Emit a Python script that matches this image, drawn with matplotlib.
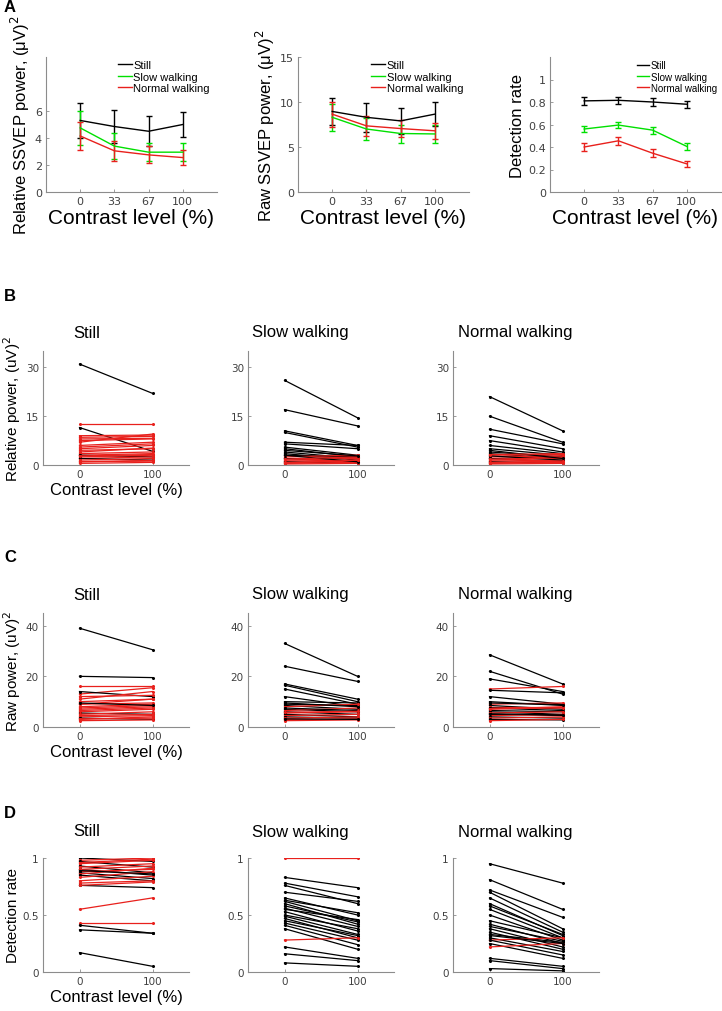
import numpy as np
import matplotlib
matplotlib.use("Agg")
import matplotlib.pyplot as plt
from matplotlib.lines import Line2D

plt.rcParams['font.family'] = ['Liberation Sans', 'DejaVu Sans']

# ---------------- Data: panel A ----------------
contrast_labels = ['0', '33', '67', '100']
contrast_pos = [1, 2, 3, 4]
conditions = ['Still', 'Slow walking', 'Normal walking']
cond_colors = ['black', '#00e000', '#e8201c']

rel_mean = [[5.3, 4.85, 4.5, 5.0],
            [4.75, 3.4, 2.95, 2.95],
            [4.15, 3.05, 2.75, 2.55]]
rel_err = [[1.3, 1.2, 1.1, 0.95],
           [1.25, 0.95, 0.67, 0.67],
           [1.02, 0.72, 0.63, 0.53]]

raw_mean = [[8.95, 8.3, 7.9, 8.65],
            [8.3, 7.0, 6.5, 6.45],
            [8.65, 7.35, 7.05, 6.8]]
raw_err = [[1.5, 1.6, 1.4, 1.3],
           [1.5, 1.2, 1.0, 0.95],
           [1.4, 1.1, 0.9, 0.9]]

det_mean = [[0.81, 0.815, 0.80, 0.78],
            [0.56, 0.595, 0.55, 0.405],
            [0.40, 0.455, 0.345, 0.25]]
det_err = [[0.035, 0.033, 0.033, 0.033],
           [0.03, 0.03, 0.03, 0.03],
           [0.035, 0.033, 0.033, 0.025]]

# ---------------- Data: panels B-D (per subject, contrast 0 -> 100) ----------------
pair_x = [0, 100]

rel_still_0 = [31, 11.5, 12.7, 9, 8.5, 8, 7.5, 6, 5, 4.5, 4, 3.5, 3, 3, 2.5, 2, 2, 1.5, 1, 1, 0.5, 7, 2.8, 5.5]
rel_still_100 = [22, 4.2, 12.7, 9.2, 8.8, 8.2, 8, 7, 6, 5, 5.2, 4, 3.5, 2.5, 3, 2.5, 1.5, 2, 1.2, 1.4, 0.8, 9.5, 3.2, 6.5]
rel_slow_0 = [26, 17, 10.5, 10, 7, 6.5, 5.5, 5, 4, 3.5, 3, 2.5, 2, 2, 1.5, 1.2, 1, 0.8, 0.5, 0.3, 3, 1.8, 0.6, 4.5]
rel_slow_100 = [14.5, 12, 6, 5.5, 6, 5, 3, 2.5, 2, 1.5, 2.5, 3, 2.2, 1, 2, 1.5, 0.5, 1.2, 0.8, 0.5, 1, 2.5, 1.5, 2.8]
rel_norm_0 = [21, 15, 11, 9, 7.5, 6, 5, 4, 3.5, 3, 2.5, 2, 2, 1.5, 1.2, 1, 0.8, 0.5, 0.3, 2.8, 1.8, 0.6, 4.5, 3.2]
rel_norm_100 = [10.5, 7, 6.5, 5, 4, 3.5, 3, 2.5, 2, 3.2, 2.8, 2.5, 1, 2, 1.5, 0.5, 1.2, 0.8, 0.5, 1.5, 2.2, 1.2, 2, 3.5]

raw_still_0 = [39, 20, 16, 13, 14, 11, 12, 10, 9, 9, 8, 7.5, 7, 6, 5.5, 5, 4.5, 4, 3.5, 3, 2.5, 9.5, 6.5, 3.2]
raw_still_100 = [30.5, 19.5, 16, 15.5, 12, 14, 12.5, 11, 11, 9.5, 9, 8.5, 8, 7, 5, 6, 5, 4.5, 3, 4, 2.8, 8.5, 7.5, 3.5]
raw_slow_0 = [33, 24, 17, 16.5, 15, 12, 10, 9, 8.5, 8, 7, 6.5, 6, 5.5, 5, 4.5, 4, 3.5, 3, 2.5, 9.5, 7.5, 5.8, 3.2]
raw_slow_100 = [20, 18, 11, 10, 9, 8, 9.5, 8.5, 7, 9, 6, 7.5, 5, 6, 4, 5, 3.5, 4, 3.2, 2.8, 8, 6.5, 6.2, 3]
raw_norm_0 = [28.5, 22, 19, 15, 14.5, 12, 10, 9, 8.5, 8, 7.5, 7, 6.5, 6, 5.5, 5, 4.5, 4, 3.5, 3, 2.5, 9.5, 7.2, 5.2]
raw_norm_100 = [17, 13, 14, 16, 13.5, 9, 8.5, 9.5, 7, 8, 6.5, 8, 6, 5, 6, 4.5, 5, 3.5, 4, 2.8, 3, 8.8, 7.5, 4.8]

det_still_0 = [1.0, 0.98, 0.97, 0.95, 0.93, 0.92, 0.9, 0.9, 0.88, 0.87, 0.86, 0.85, 0.83, 0.8, 0.78, 0.76, 0.76, 0.55, 0.43, 0.41, 0.37, 0.17, 0.96, 0.89]
det_still_100 = [0.97, 1.0, 0.92, 0.98, 0.87, 0.95, 0.85, 0.93, 0.9, 0.82, 0.91, 0.8, 0.88, 0.84, 0.8, 0.74, 0.79, 0.65, 0.43, 0.34, 0.34, 0.05, 0.99, 0.86]
det_slow_0 = [1.0, 0.83, 0.78, 0.76, 0.7, 0.65, 0.63, 0.62, 0.6, 0.58, 0.56, 0.53, 0.5, 0.49, 0.47, 0.45, 0.43, 0.41, 0.38, 0.28, 0.22, 0.16, 0.08, 0.55]
det_slow_100 = [1.0, 0.74, 0.66, 0.6, 0.62, 0.5, 0.52, 0.45, 0.42, 0.44, 0.4, 0.36, 0.38, 0.33, 0.3, 0.32, 0.28, 0.24, 0.2, 0.3, 0.12, 0.1, 0.05, 0.46]
det_norm_0 = [0.95, 0.81, 0.72, 0.7, 0.65, 0.6, 0.58, 0.55, 0.5, 0.45, 0.42, 0.4, 0.38, 0.35, 0.33, 0.3, 0.28, 0.28, 0.25, 0.22, 0.12, 0.1, 0.03, 0.32]
det_norm_100 = [0.78, 0.55, 0.48, 0.38, 0.35, 0.32, 0.33, 0.3, 0.28, 0.3, 0.25, 0.27, 0.22, 0.2, 0.26, 0.18, 0.3, 0.15, 0.12, 0.25, 0.05, 0.03, 0.01, 0.25]

# ---------------- Figure ----------------
W, H = 722, 1012
fig = plt.figure(figsize=(W / 100, H / 100), dpi=100)

AX_COLOR = '#8c8c8c'
TICK_COLOR = '#404040'
RED = '#e8201c'


def rect(left, top, width, height):
    return [left / W, 1 - (top + height) / H, width / W, height / H]


def style(ax, fs=7.5):
    for s in ['top', 'right']:
        ax.spines[s].set_visible(False)
    for s in ['left', 'bottom']:
        ax.spines[s].set_color(AX_COLOR)
        ax.spines[s].set_linewidth(0.8)
    ax.tick_params(direction='in', length=2.5, width=0.6, color=AX_COLOR,
                   labelcolor=TICK_COLOR, labelsize=fs, pad=3)
    for lab in ax.get_xticklabels() + ax.get_yticklabels():
        lab.set_family('DejaVu Sans')


# Panel A
a_lefts = [46, 298, 550]
a_leg_x = [0.42, 0.427, 0.51]
a_leg_fs = [8, 8, 7]
a_data = [(rel_mean, rel_err, 'Relative SSVEP power, (μV)$^2$', (0, 10), [0, 2, 4, 6]),
          (raw_mean, raw_err, 'Raw SSVEP power, (μV)$^2$', (0, 15), [0, 5, 10, 15]),
          (det_mean, det_err, 'Detection rate', (0, 1.2), [0, 0.2, 0.4, 0.6, 0.8, 1])]
for i, (means, errs, ylab, ylim, yt) in enumerate(a_data):
    ax = fig.add_axes(rect(a_lefts[i], 58, 171, 135))
    for c in range(3):
        ax.errorbar(contrast_pos, means[c], yerr=errs[c], color=cond_colors[c],
                    lw=1.0, elinewidth=1.0, capsize=2, capthick=1.0)
    ax.set_xlim(0, 5)
    ax.set_ylim(*ylim)
    ax.set_xticks(contrast_pos)
    ax.set_xticklabels(contrast_labels)
    ax.set_yticks(yt)
    if i == 2:
        ax.set_yticklabels(['0', '0.2', '0.4', '0.6', '0.8', '1'])
    style(ax, fs=8)
    ax.set_xlabel('Contrast level (%)', fontsize=15, labelpad=1)
    ax.set_ylabel(ylab, fontsize=12, labelpad=2)
    handles = [Line2D([], [], color=cond_colors[c], lw=1.0) for c in range(3)]
    ax.legend(handles, conditions, loc='upper left',
              bbox_to_anchor=(a_leg_x[i], 0.975), frameon=False,
              fontsize=a_leg_fs[i], handlelength=1.25, handletextpad=0.15,
              labelspacing=0.12, borderaxespad=0, borderpad=0)

fig.text(10 / W, 1 - 8 / H, 'A', fontsize=12, fontweight='bold', ha='center', va='center')

# Panels B-D
row_tops = [352, 614, 859]
row_letters = ['B', 'C', 'D']
row_letter_y = [297, 558, 813]
title_y = [333, 595, 832]
col_lefts = [43, 248, 453]
title_x = [73, 252, 458]
titles = ['Still', 'Slow walking', 'Normal walking']
rows = [
    ([(rel_still_0, rel_still_100), (rel_slow_0, rel_slow_100), (rel_norm_0, rel_norm_100)],
     'Relative power, (uV)$^2$', (0, 35), [0, 15, 30], ['0', '15', '30']),
    ([(raw_still_0, raw_still_100), (raw_slow_0, raw_slow_100), (raw_norm_0, raw_norm_100)],
     'Raw power, (uV)$^2$', (0, 45), [0, 20, 40], ['0', '20', '40']),
    ([(det_still_0, det_still_100), (det_slow_0, det_slow_100), (det_norm_0, det_norm_100)],
     'Detection rate', (0, 1), [0, 0.5, 1], ['0', '0.5', '1']),
]
for r, (panels, ylab, ylim, yt, ytl) in enumerate(rows):
    for c, (pre, post) in enumerate(panels):
        ax = fig.add_axes(rect(col_lefts[c], row_tops[r], 146, 114))
        for v0, v1 in zip(pre, post):
            col = RED if v1 >= v0 else 'black'
            ax.plot(pair_x, [v0, v1], color=col, lw=0.9, marker='o', ms=1.2,
                    mfc=col, mec=col)
        ax.set_xlim(-50, 150)
        ax.set_ylim(*ylim)
        ax.set_xticks(pair_x)
        ax.set_yticks(yt)
        ax.set_yticklabels(ytl)
        style(ax, fs=7.5)
        fig.text(title_x[c] / W, 1 - title_y[r] / H, titles[c], fontsize=12,
                 ha='left', va='center')
        if c == 0:
            ax.set_xlabel('Contrast level (%)', fontsize=12, labelpad=2)
            ax.set_ylabel(ylab, fontsize=11, labelpad=2)
    fig.text(10 / W, 1 - row_letter_y[r] / H, row_letters[r], fontsize=12,
             fontweight='bold', ha='center', va='center')

fig.savefig('out.png', dpi=100)
